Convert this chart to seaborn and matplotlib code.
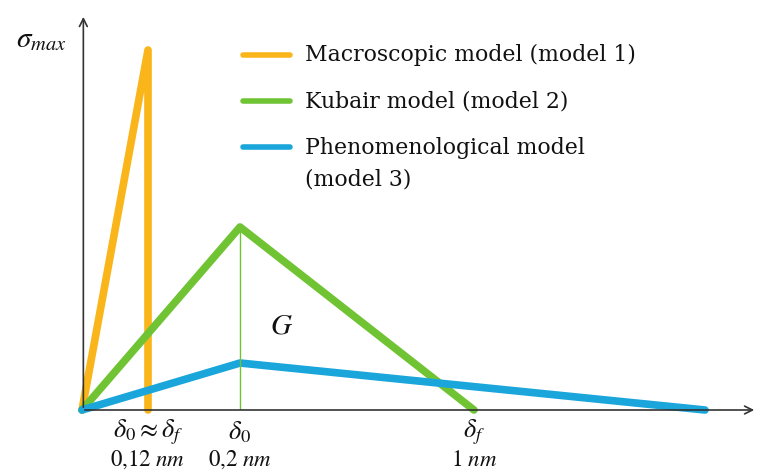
import pandas as pd
import matplotlib.pyplot as plt
from matplotlib.lines import Line2D
import seaborn as sns

# Values (pixel-like units from the origin)
models = ['Macroscopic model (model 1)', 'Kubair model (model 2)', 'Phenomenological model\n(model 3)']
model1_x = [0, 66, 66]
model1_y = [0, 360, 0]
model2_x = [0, 158, 392]
model2_y = [0, 183, 0]
model3_x = [0, 158, 623]
model3_y = [0, 47, 0]
tick_pos = [66, 158, 392]
tick_labels = ['$\\delta_0 \\approx \\delta_f$', '$\\delta_0$', '$\\delta_f$']
tick_units = ['$0{,}12\\ nm$', '$0{,}2\\ nm$', '$1\\ nm$']
colors = ['#F9B51A', '#70C434', '#1AA6DB']

sns.set_style('white')
plt.rcParams['font.family'] = ['DejaVu Serif', 'Liberation Serif']
plt.rcParams['mathtext.fontset'] = 'stix'
plt.rcParams['text.color'] = '#111111'

df = pd.DataFrame({
    'x': model1_x + model2_x + model3_x,
    'y': model1_y + model2_y + model3_y,
    'model': [models[0]] * 3 + [models[1]] * 3 + [models[2]] * 3,
})

fig = plt.figure(figsize=(7.59, 4.71), dpi=100)
ax = fig.add_axes([82 / 759, 61 / 471, 675 / 759, 392 / 471])

sns.lineplot(data=df, x='x', y='y', hue='model', palette=colors, sort=False,
             estimator=None, units='model', linewidth=5.5, legend=False, ax=ax)
for ln in ax.lines:
    ln.set_solid_joinstyle('round')
    ln.set_solid_capstyle('round')
    ln.set_clip_on(False)

# thin green line under the Kubair peak
ax.plot([model2_x[1], model2_x[1]], [0, model2_y[1]], color=colors[1], lw=1)
ax.text(200, 84, '$G$', fontsize=21, ha='center', va='center')

ax.set_xlim(0, 675)
ax.set_ylim(0, 392)
sns.despine(ax=ax, left=True, bottom=True, top=True, right=True)
ax.set_xticks([])
ax.set_yticks([])
ax.set_xlabel('')
ax.set_ylabel('')

# axes arrows
ax.annotate('', xy=(1.0, 0), xytext=(0, 0), xycoords='axes fraction',
            arrowprops=dict(arrowstyle='->', lw=1.2, color='#333333', mutation_scale=14))
ax.annotate('', xy=(0.002, 1.01), xytext=(0.002, 0), xycoords='axes fraction',
            arrowprops=dict(arrowstyle='->', lw=1.2, color='#333333', mutation_scale=14))
ax.text(-0.06, 0.945, '$\\sigma_{max}$', transform=ax.transAxes,
        fontsize=21, ha='center', va='center')

for p, lab, unit in zip(tick_pos, tick_labels, tick_units):
    ax.text(p, -22, lab, fontsize=19, ha='center', va='center')
    ax.text(p, -50, unit, fontsize=16.5, ha='center', va='center')

# legend drawn by hand to keep the handle on the first text line
leg_y = [355, 309, 263]
for c, m, yy in zip(colors, models, leg_y):
    ax.add_line(Line2D([161, 208], [yy, yy], color=c, lw=4))
    if '\n' in m:
        ax.text(223, yy + 10, m, fontsize=15.8, ha='left', va='top', linespacing=1.55)
    else:
        ax.text(223, yy, m, fontsize=15.8, ha='left', va='center')

fig.savefig('out.png', dpi=100)
